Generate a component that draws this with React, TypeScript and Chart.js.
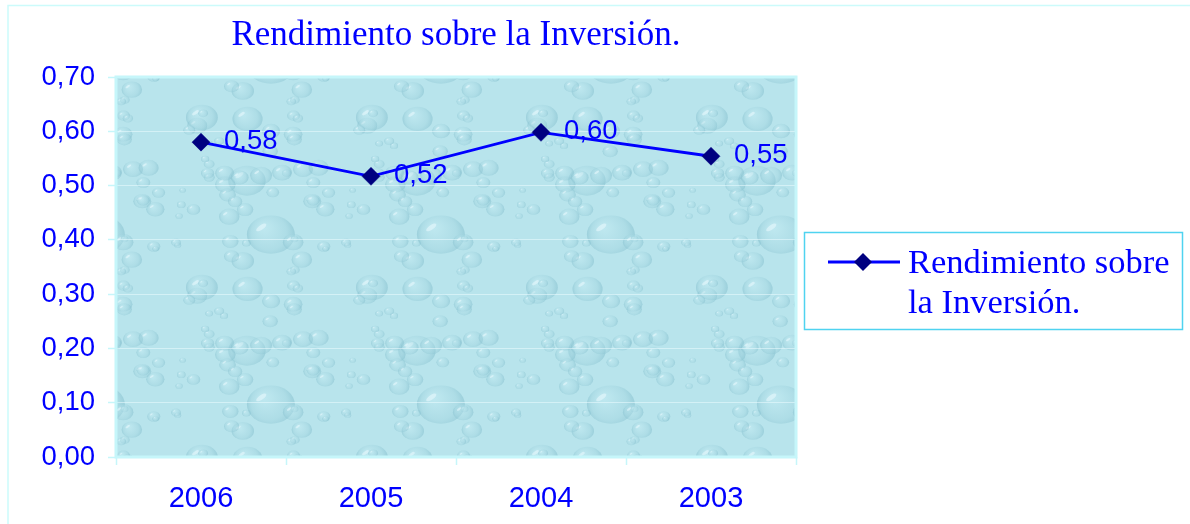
import React, { useEffect, useRef } from "react";
import { Chart, registerables } from "chart.js";

Chart.register(...registerables);

const categories = ["2006", "2005", "2004", "2003"];
const seriesLabel = "Rendimiento sobre la Inversión.";
const legendLines = ["Rendimiento sobre", "la Inversión."];
const values = [0.58, 0.517, 0.598, 0.554];
const yTicks = { min: 0, max: 0.7, step: 0.1 };

const BLUE = "#0000ff";
const NAVY = "#000080";
const SERIF = "'Liberation Serif', 'Times New Roman', serif";
const SANS = "'Liberation Sans', Arial, sans-serif";

function makeTexture(): HTMLCanvasElement {
  const c = document.createElement("canvas");
  c.width = 170;
  c.height = 170;
  const g = c.getContext("2d")!;
  g.fillStyle = "rgb(184,228,236)";
  g.fillRect(0, 0, 170, 170);
  let seed = 987654;
  const rnd = () => {
    seed = (seed * 1103515245 + 12345) % 2147483648;
    return seed / 2147483648;
  };
  for (let i = 0; i < 55; i++) {
    const x = rnd() * 170;
    const y = rnd() * 170;
    const r = 3 + rnd() * (i < 10 ? 24 : 8);
    for (const dx of [-170, 0, 170]) {
      for (const dy of [-170, 0, 170]) {
        const cx = x + dx;
        const cy = y + dy;
        if (cx + r < 0 || cx - r > 170 || cy + r < 0 || cy - r > 170) continue;
        const grad = g.createRadialGradient(cx - r * 0.3, cy - r * 0.3, r * 0.1, cx, cy, r);
        grad.addColorStop(0, "rgba(200,238,245,0.35)");
        grad.addColorStop(0.7, "rgba(155,208,220,0.35)");
        grad.addColorStop(1, "rgba(120,182,198,0.45)");
        g.fillStyle = grad;
        g.beginPath();
        g.ellipse(cx, cy, r, r * 0.8, 0, 0, Math.PI * 2);
        g.fill();
        g.fillStyle = "rgba(240,252,255,0.5)";
        g.beginPath();
        g.ellipse(cx - r * 0.4, cy - r * 0.3, r * 0.25, r * 0.1, -0.6, 0, Math.PI * 2);
        g.fill();
      }
    }
  }
  return c;
}

const backgroundPlugin = {
  id: "bgTexture",
  beforeDraw(chart: any) {
    const { ctx, chartArea } = chart;
    ctx.save();
    ctx.fillStyle = "#ffffff";
    ctx.fillRect(0, 0, chart.width, chart.height);
    ctx.strokeStyle = "#ccfbfb";
    ctx.lineWidth = 1.5;
    ctx.beginPath();
    ctx.moveTo(8, chart.height + 5);
    ctx.lineTo(8, 5.5);
    ctx.lineTo(chart.width + 5, 5.5);
    ctx.stroke();
    const pattern = ctx.createPattern(makeTexture(), "repeat");
    ctx.fillStyle = pattern;
    ctx.fillRect(chartArea.left, chartArea.top, chartArea.right - chartArea.left, chartArea.bottom - chartArea.top);
    ctx.restore();
  },
  afterDatasetsDraw(chart: any) {
    const { ctx, chartArea } = chart;
    ctx.save();
    ctx.strokeStyle = "#c6f6fa";
    ctx.lineWidth = 3;
    ctx.strokeRect(chartArea.left, chartArea.top, chartArea.right - chartArea.left, chartArea.bottom - chartArea.top);
    ctx.restore();
  },
};

const dataLabelPlugin = {
  id: "dataLabels",
  afterDatasetsDraw(chart: any) {
    const { ctx } = chart;
    const meta = chart.getDatasetMeta(0);
    const data = chart.data.datasets[0].data as number[];
    ctx.save();
    ctx.font = `27.5px ${SANS}`;
    ctx.fillStyle = BLUE;
    ctx.textAlign = "left";
    ctx.textBaseline = "middle";
    meta.data.forEach((pt: any, i: number) => {
      const txt = data[i].toFixed(2).replace(".", ",");
      ctx.fillText(txt, pt.x + 23, pt.y - 1);
    });
    ctx.restore();
  },
};

const legendPlugin = {
  id: "customLegend",
  afterDraw(chart: any) {
    const { ctx } = chart;
    ctx.save();
    ctx.strokeStyle = "#4fd3f0";
    ctx.lineWidth = 1.5;
    ctx.strokeRect(804.5, 232.5, 378, 97);
    ctx.strokeStyle = BLUE;
    ctx.lineWidth = 2.8;
    ctx.beginPath();
    ctx.moveTo(828, 262);
    ctx.lineTo(900, 262);
    ctx.stroke();
    ctx.fillStyle = NAVY;
    ctx.beginPath();
    ctx.moveTo(854, 262);
    ctx.lineTo(863, 253);
    ctx.lineTo(872, 262);
    ctx.lineTo(863, 271);
    ctx.closePath();
    ctx.fill();
    ctx.font = `34.5px ${SERIF}`;
    ctx.fillStyle = BLUE;
    ctx.textAlign = "left";
    ctx.textBaseline = "alphabetic";
    legendLines.forEach((line, i) => {
      ctx.fillText(line, 908, 273 + i * 40);
    });
    ctx.restore();
  },
};

export default function App() {
  const ref = useRef<HTMLCanvasElement>(null);
  useEffect(() => {
    if (!ref.current) return;
    const chart = new Chart(ref.current, {
      type: "line",
      data: {
        labels: categories,
        datasets: [
          {
            label: seriesLabel,
            data: values,
            borderColor: BLUE,
            borderWidth: 2.8,
            pointStyle: "rectRot",
            pointRadius: 9,
            pointBackgroundColor: NAVY,
            pointBorderColor: NAVY,
            pointBorderWidth: 0.5,
            tension: 0,
            fill: false,
          },
        ],
      },
      options: {
        animation: false,
        responsive: false,
        layout: { padding: { left: 0, right: 394, top: 0, bottom: 0 } },
        plugins: {
          legend: { display: false },
          tooltip: { enabled: false },
          title: {
            display: true,
            text: seriesLabel,
            fullSize: false,
            color: BLUE,
            font: { family: SERIF, size: 35, weight: "normal", lineHeight: 1.2 },
            padding: { top: 15, bottom: 20 },
          },
        },
        scales: {
          x: {
            offset: true,
            grid: {
              offset: true,
              drawOnChartArea: false,
              drawTicks: true,
              tickLength: 8,
              tickColor: "#c6f6fa",
              tickWidth: 1.5,
            },
            border: { display: false },
            ticks: {
              color: BLUE,
              font: { family: SANS, size: 29 },
              padding: 17,
              maxRotation: 0,
            },
            afterFit(scale: any) {
              scale.height = 67;
            },
          },
          y: {
            min: yTicks.min,
            max: yTicks.max,
            grid: {
              color: "rgba(235,252,255,0.55)",
              lineWidth: 1,
              drawTicks: true,
              tickLength: 8,
              tickColor: "#c6f6fa",
              tickWidth: 1.5,
            },
            border: { display: false },
            ticks: {
              stepSize: yTicks.step,
              color: BLUE,
              font: { family: SANS, size: 27.5 },
              padding: 13,
              callback: (v: any) => Number(v).toFixed(2).replace(".", ","),
            },
            afterFit(scale: any) {
              scale.width = 116;
            },
          },
        },
      },
      plugins: [backgroundPlugin, dataLabelPlugin, legendPlugin],
    });
    return () => chart.destroy();
  }, []);
  return (
    <div style={{ position: "absolute", left: 0, top: 0, width: 1190, height: 524 }}>
      <canvas ref={ref} width={1190} height={524} style={{ display: "block" }} />
    </div>
  );
}
